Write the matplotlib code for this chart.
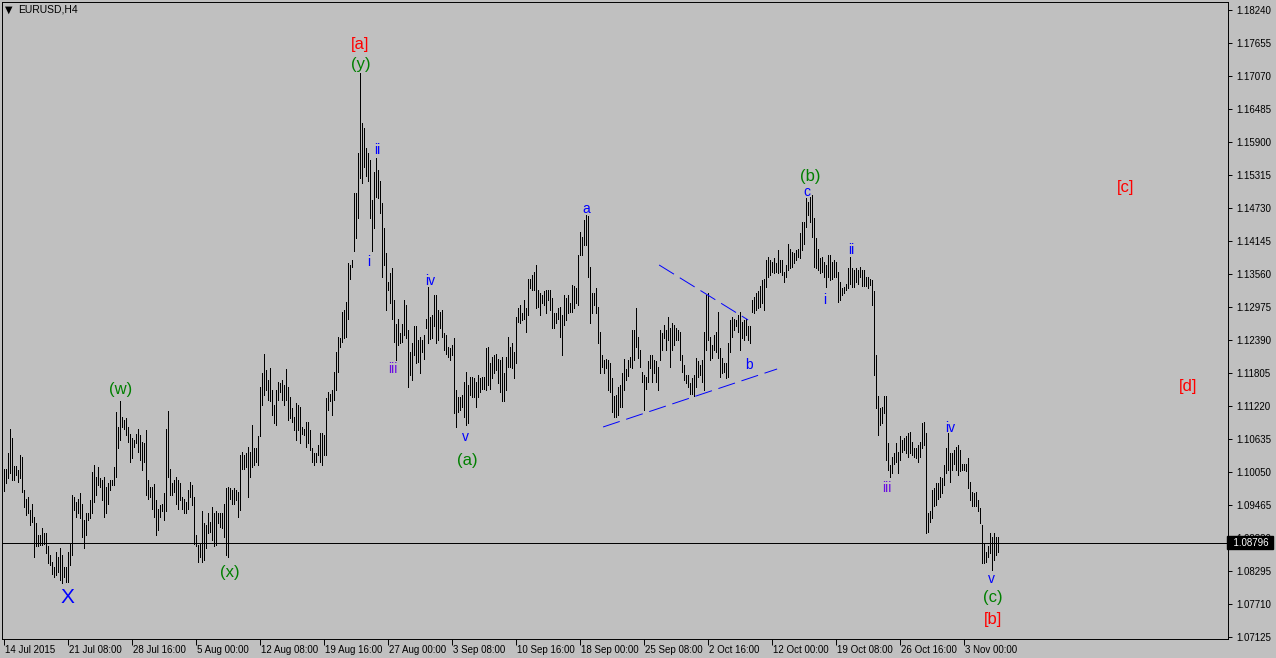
import numpy as np
import matplotlib
matplotlib.use("Agg")
import matplotlib.pyplot as plt
from matplotlib.transforms import blended_transform_factory

# ---------------- data (EURUSD H4, prices in pips: 11011 -> 1.1011) ----------------
high_pips = [
    11011, 11011, 11038, 11082, 11065, 11016, 11016, 11008, 11035, 11032,
    10973, 10958, 10961, 10938, 10948, 10926, 10914, 10893, 10893, 10905,
    10896, 10896, 10873, 10858, 10846, 10837, 10864, 10855, 10870, 10858,
    10837, 10837, 10864, 10878, 10964, 10961, 10952, 10958, 10967, 10949,
    10920, 10932, 10932, 10955, 11005, 11017, 10997, 11014, 10994, 10991,
    10997, 10979, 10985, 10991, 10991, 11014, 11112, 11085, 11130, 11103,
    11097, 11100, 11085, 11073,
    11065, 11062, 11073, 11082, 11070, 11059, 11056, 11079, 10991, 10979,
    10979, 10984, 10955, 10940, 10946, 10949, 10967, 11082, 11113, 11011,
    10985, 10991, 10997, 10991, 10985, 10961, 10958, 10952, 10973, 10988,
    10982, 10961, 10893, 10875, 10878, 10935, 10914, 10911, 10932, 10917,
    10943, 10932, 10935, 10932, 10932, 10932, 10949, 10976, 10979, 10976,
    10973, 10976, 10973, 10970, 11035, 11041, 11035, 11038, 11050, 11041,
    11088, 11047,
    11047, 11068, 11156, 11180, 11215, 11186, 11168, 11189, 11150, 11124,
    11150, 11165, 11162, 11168, 11159, 11187, 11156, 11138, 11118, 11103,
    11127, 11124, 11121, 11085, 11082, 11094, 11094, 11079, 11047, 11038,
    11038, 11053, 11074, 11074, 11071, 11136, 11147, 11144, 11150, 11183,
    11218, 11245,
    11242, 11289, 11292, 11307, 11375, 11372, 11381, 11499, 11499, 11570,
    11712, 11623, 11614, 11579, 11570, 11558, 11487, 11537, 11561, 11540,
    11520, 11481, 11437, 11393, 11342, 11357, 11366, 11310, 11268, 11277,
    11251, 11268, 11310, 11301, 11257, 11218, 11233, 11263, 11263, 11239,
    11245, 11239, 11248, 11277, 11333, 11280,
    11283, 11319, 11319, 11292, 11289, 11292, 11251, 11248, 11227, 11224,
    11230, 11242, 11150, 11138, 11138, 11141, 11165, 11183, 11159, 11174,
    11174, 11171, 11165, 11177, 11171, 11174, 11174, 11224, 11227, 11198,
    11209, 11212, 11215, 11206, 11204, 11209, 11180, 11209, 11245, 11227,
    11233, 11218, 11280, 11295, 11301, 11286, 11310, 11295, 11348, 11348,
    11354, 11360, 11372, 11328, 11322, 11319, 11325, 11328, 11328, 11328,
    11313, 11286, 11286, 11295, 11298, 11283, 11319, 11313, 11319, 11304,
    11336, 11334, 11331, 11390, 11431, 11422, 11452, 11461, 11458, 11369,
    11322, 11322, 11331, 11298, 11254, 11212, 11204, 11206, 11204, 11198,
    11171, 11139, 11141, 11156, 11159,
    11180, 11205, 11188, 11204,
    11209, 11257, 11257, 11295, 11245, 11221, 11183, 11177, 11174, 11201,
    11212, 11212, 11204, 11201, 11192, 11257, 11251, 11266, 11257, 11280,
    11260, 11269, 11266, 11260, 11257, 11254, 11212, 11195, 11177, 11177,
    11162, 11171, 11177, 11207, 11201, 11195, 11204, 11254, 11319, 11322,
    11245, 11230, 11248, 11254, 11289, 11224, 11207, 11198, 11198, 11233,
    11274, 11280, 11277, 11274, 11283, 11289, 11271, 11274, 11277, 11263,
    11263,
    11310, 11316, 11322, 11325, 11334, 11345, 11348, 11381, 11387, 11381,
    11378, 11384, 11375, 11398, 11381, 11381, 11360, 11372, 11410, 11401,
    11395, 11393, 11398, 11401, 11428, 11449, 11449, 11490, 11484, 11493,
    11496, 11455, 11419, 11401, 11384, 11387, 11378, 11372, 11390, 11390,
    11378, 11381, 11378, 11360, 11342, 11331, 11333, 11339, 11366, 11387,
    11366, 11363, 11366, 11363, 11369,
    11363, 11363, 11351, 11351, 11348, 11345, 11325, 11212, 11139, 11118,
    11121, 11139, 11139, 11056, 11017, 11032, 11038, 11056, 11041, 11068,
    11062, 11065, 11068, 11074, 11076, 11059, 11047, 11047, 11053, 11059,
    11091, 11094, 11074, 10932, 10935, 10973, 10976, 10985, 10985, 10997,
    10994, 11017, 11047, 11074, 11038, 11038, 11044, 11050, 11053, 11044,
    11020, 11020, 11020, 11029, 10988, 10970, 10967, 10970, 10955, 10941,
    10911, 10879, 10864, 10873, 10896, 10890, 10896, 10890, 10890,
]

low_pips = [
    10971, 10985, 10994, 11003, 10991, 10991, 11000, 10988, 10994, 10970,
    10943, 10929, 10932, 10911, 10917, 10855, 10873, 10873, 10875, 10875,
    10878, 10861, 10843, 10840, 10825, 10819, 10822, 10828, 10813, 10808,
    10819, 10810, 10810, 10840, 10858, 10938, 10926, 10932, 10923, 10890,
    10870, 10893, 10920, 10923, 10932, 10952, 10964, 10982, 10979, 10955,
    10926, 10932, 10949, 10973, 10982, 10982, 10997, 11047, 11062, 11085,
    11082, 11070, 11059, 11023,
    11029, 11050, 11056, 11041, 11026, 11008, 11023, 10964, 10958, 10961,
    10940, 10926, 10893, 10902, 10926, 10935, 10920, 10935, 10997, 10964,
    10964, 10970, 10949, 10940, 10955, 10940, 10932, 10932, 10940, 10961,
    10946, 10878, 10873, 10846, 10855, 10846, 10849, 10870, 10896, 10899,
    10884, 10873, 10875, 10914, 10908, 10905, 10890, 10858, 10855, 10958,
    10949, 10949, 10955, 10926, 10938, 11011, 11011, 11014, 10961, 10997,
    11014, 11017,
    11023, 11017, 11068, 11124, 11141, 11150, 11133, 11130, 11106, 11091,
    11088, 11133, 11147, 11133, 11124, 11133, 11097, 11100, 11094, 11079,
    11062, 11079, 11056, 11073, 11071, 11050, 11056, 11044, 11023, 11017,
    11023, 11035, 11023, 11017, 11035, 11035, 11115, 11130, 11106, 11133,
    11150, 11183,
    11227, 11236, 11242, 11245, 11277, 11348, 11369, 11396, 11419, 11455,
    11526, 11517, 11546, 11529, 11520, 11455, 11396, 11437, 11493, 11490,
    11464, 11351, 11372, 11292, 11328, 11304, 11277, 11236, 11203, 11230,
    11233, 11236, 11248, 11242, 11156, 11177, 11168, 11212, 11198, 11200,
    11180, 11218, 11206, 11260, 11233, 11240,
    11242, 11263, 11233, 11239, 11260, 11245, 11221, 11215, 11209, 11203,
    11212, 11109, 11085, 11112, 11115, 11121, 11103, 11088, 11091, 11141,
    11138, 11138, 11121, 11138, 11147, 11153, 11153, 11150, 11159, 11153,
    11171, 11180, 11186, 11162, 11147, 11130, 11130, 11150, 11192, 11192,
    11189, 11171, 11198, 11271, 11269, 11274, 11277, 11254, 11283, 11331,
    11328, 11328, 11295, 11298, 11283, 11304, 11301, 11286, 11310, 11292,
    11260, 11260, 11269, 11277, 11245, 11212, 11266, 11274, 11286, 11289,
    11289, 11295, 11304, 11301, 11390, 11390, 11407, 11407, 11351, 11269,
    11286, 11301, 11286, 11233, 11180, 11192, 11180, 11189, 11150, 11147,
    11112, 11103, 11103, 11106, 11121,
    11120, 11150, 11168, 11176,
    11192, 11189, 11204, 11227, 11207, 11192, 11165, 11115, 11153, 11165,
    11189, 11165, 11180, 11165, 11150, 11204, 11221, 11242, 11221, 11239,
    11192, 11221, 11230, 11239, 11239, 11204, 11183, 11168, 11162, 11156,
    11144, 11144, 11139, 11156, 11174, 11177, 11165, 11150, 11221, 11239,
    11204, 11207, 11221, 11218, 11207, 11174, 11180, 11183, 11171, 11174,
    11218, 11245, 11257, 11263, 11254, 11221, 11242, 11239, 11248, 11239,
    11233,
    11289, 11286, 11292, 11295, 11298, 11304, 11292, 11333, 11351, 11354,
    11360, 11357, 11360, 11357, 11360, 11354, 11342, 11351, 11363, 11366,
    11369, 11375, 11381, 11387, 11384, 11398, 11410, 11440, 11461, 11449,
    11422, 11369, 11366, 11363, 11357, 11360, 11351, 11333, 11351, 11345,
    11348, 11351, 11351, 11307, 11310, 11319, 11322, 11328, 11331, 11339,
    11333, 11333, 11342, 11339, 11351,
    11334, 11334, 11334, 11331, 11337, 11301, 11177, 11118, 11071, 11088,
    11091, 11109, 11026, 11008, 10997, 11003, 11020, 11023, 11003, 11026,
    11041, 11044, 11038, 11032, 11038, 11035, 11032, 11029, 11023, 11032,
    11047, 11053, 10896, 10899, 10917, 10923, 10944, 10946, 10958, 10961,
    10967, 10982, 11003, 11008, 10988, 11008, 11020, 11008, 11000, 11006,
    11008, 11008, 11006, 10976, 10955, 10944, 10944, 10944, 10935, 10914,
    10843, 10843, 10846, 10855, 10861, 10831, 10849, 10858, 10863,
]

time_labels = ["14 Jul 2015", "21 Jul 08:00", "28 Jul 16:00", "5 Aug 00:00",
               "12 Aug 08:00", "19 Aug 16:00", "27 Aug 00:00", "3 Sep 08:00",
               "10 Sep 16:00", "18 Sep 00:00", "25 Sep 08:00", "2 Oct 16:00",
               "12 Oct 00:00", "19 Oct 08:00", "26 Oct 16:00", "3 Nov 00:00"]
bars_per_label = 32
price_labels = ["1.18240", "1.17655", "1.17070", "1.16485", "1.15900", "1.15315",
                "1.14730", "1.14145", "1.13560", "1.12975", "1.12390", "1.11805",
                "1.11220", "1.10635", "1.10050", "1.09465", "1.08880", "1.08295",
                "1.07710", "1.07125"]
current_price = 1.08796

# wave labels: (text, bar index, price, colour, size)
RED, GREEN, BLUE, VIOLET = "#FF0000", "#008000", "#0000FF", "#6A0DE0"
wave_labels = [
    ("[a]", 178.3, 1.17620, RED, 12), ("(y)", 178.8, 1.17265, GREEN, 12),
    ("ii", 186.8, 1.15758, BLUE, 10), ("i", 182.8, 1.13773, BLUE, 10),
    ("iii", 194.8, 1.11876, VIOLET, 10), ("iv", 213.3, 1.13436, BLUE, 10),
    ("v", 230.8, 1.10670, BLUE, 10), ("(a)", 231.8, 1.10245, GREEN, 12),
    ("(w)", 58.8, 1.11521, GREEN, 12), ("X", 31.8, 1.07834, BLUE, 15),
    ("(x)", 113.3, 1.08260, GREEN, 12), ("a", 291.3, 1.14712, BLUE, 10),
    ("b", 372.8, 1.11947, BLUE, 10), ("c", 401.8, 1.15014, BLUE, 10),
    ("(b)", 403.3, 1.15297, GREEN, 12), ("i", 410.8, 1.13099, BLUE, 10),
    ("ii", 423.8, 1.13986, BLUE, 10), ("iii", 441.8, 1.09766, VIOLET, 10),
    ("iv", 473.3, 1.10830, BLUE, 10), ("v", 493.8, 1.08153, BLUE, 10),
    ("(c)", 494.8, 1.07834, GREEN, 12), ("[b]", 494.8, 1.07444, RED, 12),
    ("[c]", 560.8, 1.15085, RED, 12), ("[d]", 592.3, 1.11557, RED, 12),
]
# triangle trend lines: (bar0, price0, bar1, price1)
trend_lines = [(327.8, 1.13720, 372.3, 1.12745), (299.8, 1.10848, 386.8, 1.11876)]

# ---------------- figure ----------------
assert len(high_pips) == len(low_pips)
highs = np.array(high_pips) / 10000.0
lows = np.array(low_pips) / 10000.0
x = np.arange(len(highs))

W, H = 1276, 658
BG = "#C0C0C0"
plt.rcParams["font.family"] = ["Liberation Sans", "DejaVu Sans"]
fig = plt.figure(figsize=(W / 100, H / 100), dpi=100, facecolor=BG)
ax_l, ax_r, ax_t, ax_b = 2, 1228, 2, 639
ax = fig.add_axes([ax_l / W, 1 - ax_b / H, (ax_r - ax_l) / W, (ax_b - ax_t) / H])
ax.set_facecolor(BG)

ppx = 0.00585 / 33.0
top_price = float(price_labels[0])
ax.set_ylim(top_price - (ax_b - 10) * ppx, top_price + (10 - ax_t) * ppx)
ax.set_xlim((ax_l - 3.5) / 2, (ax_r - 3.5) / 2)

LW = 0.7  # ~1 px
ax.vlines(x, lows, highs, colors="black", linewidth=LW, antialiased=False, zorder=3)
ax.axhline(current_price, color="black", linewidth=LW, antialiased=False, zorder=2)

for (b0, p0, b1, p1) in trend_lines:
    ax.plot([b0, b1], [p0, p1], color="#0000FF", linewidth=LW,
            linestyle=(0, (18, 7)), zorder=4)

for (t, b, p, c, s) in wave_labels:
    ax.text(b, p, t, color=c, fontsize=s, ha="center", va="center", zorder=5)

for s in ax.spines.values():
    s.set_color("black")
    s.set_linewidth(LW)

# x ticks
tick_pos = [i * bars_per_label for i in range(len(time_labels))]
ax.set_xticks(tick_pos)
ax.tick_params(axis="x", direction="out", length=4, width=LW, color="black",
               labelbottom=False)
tr = blended_transform_factory(ax.transData, ax.transAxes)
for pos, lab in zip(tick_pos, time_labels):
    ax.annotate(lab, xy=(pos, 0), xycoords=tr, xytext=(1.0, -4.0),
                textcoords="offset points", ha="left", va="top", fontsize=7,
                color="black", annotation_clip=False)

# y ticks on the right
price_vals = [float(p) for p in price_labels]
ax.yaxis.tick_right()
ax.set_yticks(price_vals)
ax.set_yticklabels(price_labels, fontsize=7)
ax.tick_params(axis="y", direction="out", length=3, width=LW, color="black", pad=3)
ax.tick_params(axis="y", left=False)

# current price box (covers the lower part of the 1.08880 label as in MT4)
trp = blended_transform_factory(ax.transAxes, ax.transData)
ax.text(1.0, current_price, "  1.08796 ", transform=trp, ha="left", va="center",
        fontsize=7, color="white", zorder=10, clip_on=False,
        bbox=dict(boxstyle="square,pad=0.15", facecolor="black", edgecolor="black"))

# title
fig.text(5 / W, 1 - 10 / H, "\u25BC", fontsize=7, va="center", ha="left",
         color="black", family="DejaVu Sans")
fig.text(18 / W, 1 - 10 / H, "EURUSD,H4", fontsize=7.5, va="center", ha="left", color="black")

fig.savefig("out.png", dpi=100, facecolor=BG)
